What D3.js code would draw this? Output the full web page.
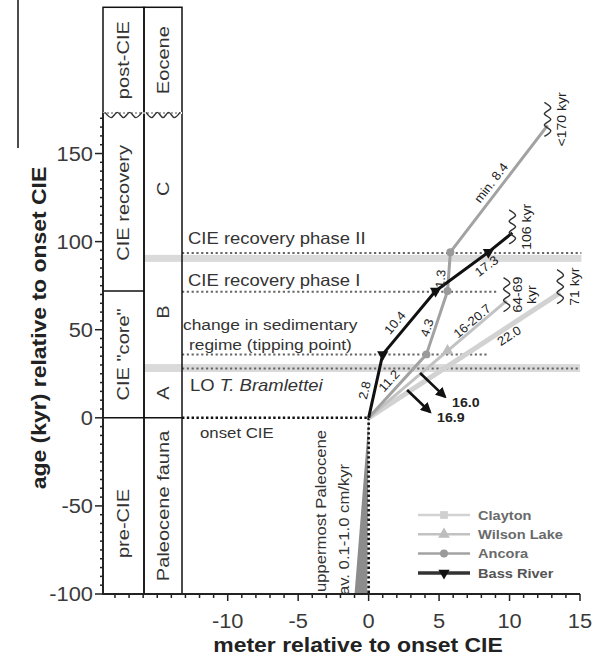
<!DOCTYPE html>
<html><head><meta charset="utf-8">
<script src="https://cdn.jsdelivr.net/npm/d3@7"></script>
<style>body{margin:0;background:#fff}svg{display:block}</style>
</head><body>
<svg id="chart" width="611" height="657"></svg>
<script>
// ---- stratigraphic columns (kyr relative to onset CIE) ----
const phaseNames = ['post-CIE', 'CIE recovery', 'CIE "core"', 'pre-CIE'];
const phaseFrom  = [173, 72, 0, -100];
const phaseTo    = [233, 173, 72, 0];
const phaseLabelAt = [203, 122, 36, -60];

const zoneNames = ['Eocene', 'C', 'B', 'A', 'Paleocene fauna'];
const zoneFrom  = [173, 92, 28, 0, -100];
const zoneTo    = [233, 173, 92, 28, 0];
const zoneLabelAt = [203, 130, 60, 14, -50];

// ---- time horizons ----
const horizonNames = ['CIE recovery phase II', 'CIE recovery phase I', 'tipping point', 'LO T. bramlettei', 'onset CIE'];
const horizonKyr   = [93.5, 71.5, 36, 28, 0];
const horizonEndM  = [15.1, 9.1, 8.4, 15.0, 0];
const bandKyr = [[88.5, 92.5], [26, 30.5]];   // grey uncertainty bands
const bandEndM = [15.1, 15.0];

// ---- uppermost Paleocene sedimentation rate (cm/kyr) ----
const paleoRates = [0.1, 1.0];
const paleoSpanKyr = 100;

// ---- age-depth tie points per site (m, kyr) ----
const sites = ['Clayton', 'Wilson Lake', 'Ancora', 'Bass River'];
const claytonM   = [0, 13.6];
const claytonKyr = [0, 71];
const wilsonM    = [0, 5.6, 9.8];
const wilsonKyr  = [0, 38, 66.5];
const ancoraM    = [0, 4.1, 5.6, 5.8, 12.7];
const ancoraKyr  = [0, 36, 72, 94, 166];
const bassM      = [0, 1.0, 4.75, 8.5, 10.2];
const bassKyr    = [0, 36, 72, 94, 105];
// which tie points carry a symbol
const claytonMarks = [];
const wilsonMarks  = [1];
const ancoraMarks  = [1, 2, 3];
const bassMarks    = [1, 2, 3];

// sedimentation rates (cm/kyr) written along segments
const rateSite = ['Bass River', 'Bass River', 'Bass River', 'Ancora', 'Ancora', 'Ancora', 'Ancora', 'Wilson Lake', 'Clayton'];
const rateSeg  = [0, 1, 2, 0, 1, 2, 3, 1, 0];
const rateText = ['2.8', '10.4', '17.3', '11.2', '4.3', '1.3', 'min. 8.4', '16-20.7', '22.0'];

// duration at top of each record
const endSite = ['Ancora', 'Bass River', 'Wilson Lake', 'Clayton'];
const endText = [['<170 kyr'], ['106 kyr'], ['64-69', 'kyr'], ['71 kyr']];

// arrows to deeper levels (m)
const arrowSite  = ['Wilson Lake', 'Clayton'];
const arrowText  = ['16.0', '16.9'];
const arrowFromM = [3.65, 2.73];
const arrowFromK = [25.4, 15.8];
const arrowToM   = [5.42, 4.36];
const arrowToK   = [11.9, 3.3];

// axis ticks
const xTicks = [-10, -5, 0, 5, 10, 15];
const yTicks = [-100, -50, 0, 50, 100, 150];

// ---------------------------------------------------------------
const FONT = '"Liberation Sans", Arial, Helvetica, sans-serif';
const SX = 1.12;           // slight horizontal widening of glyphs
const svg = d3.select('#chart');
const x = d3.scaleLinear().domain([-18.85, 15]).range([103, 580]);
const y = d3.scaleLinear().domain([-100, 173]).range([594, 113]);
const col1 = [103, 144], col2 = [144, 182];

const style = {
  'Clayton':     {stroke: '#d2d2d2', width: 5,   fill: '#cfcfcf', shape: d3.symbolSquare,   size: 60},
  'Wilson Lake': {stroke: '#c2c2c2', width: 3,   fill: '#bdbdbd', shape: d3.symbolTriangle, size: 60},
  'Ancora':      {stroke: '#a2a2a2', width: 3,   fill: '#9a9a9a', shape: d3.symbolCircle,   size: 50},
  'Bass River':  {stroke: '#111111', width: 3,   fill: '#111111', shape: d3.symbolTriangle, size: 55, flip: true}
};
const siteData = {
  'Clayton':     {m: claytonM, k: claytonKyr, marks: claytonMarks},
  'Wilson Lake': {m: wilsonM,  k: wilsonKyr,  marks: wilsonMarks},
  'Ancora':      {m: ancoraM,  k: ancoraKyr,  marks: ancoraMarks},
  'Bass River':  {m: bassM,    k: bassKyr,    marks: bassMarks}
};
const pts = s => siteData[s].m.map((m, i) => [x(m), y(siteData[s].k[i])]);

function txt(g, str, px, py, o = {}) {
  const t = g.append('text')
    .attr('transform', `translate(${px},${py}) rotate(${o.rot || 0}) scale(${o.sx || SX},1)`)
    .attr('font-family', FONT)
    .attr('font-size', o.size || 16)
    .attr('font-weight', o.weight || 'normal')
    .attr('font-style', o.italic ? 'italic' : 'normal')
    .attr('fill', o.fill || '#333')
    .attr('text-anchor', o.anchor || 'start')
    .attr('dominant-baseline', o.base || 'auto');
  if (typeof str === 'string') t.text(str);
  else str.forEach(p => t.append('tspan').attr('font-style', p.italic ? 'italic' : 'normal').text(p.t));
  return t;
}

// vertical or horizontal wavy stroke
function wavy(g, cx, cy, len, vertical, amp = 3.2, n = 6) {
  const p = d3.range(n + 1).map(i => {
    const a = -len / 2 + i * len / n, b = (i % 2 ? amp : -amp);
    return vertical ? [cx + b, cy + a] : [cx + a, cy + b];
  });
  g.append('path').attr('d', d3.line().curve(d3.curveCardinal)(p))
    .attr('fill', 'none').attr('stroke', '#333').attr('stroke-width', 1.4);
}

// stray frame line at the upper left
svg.append('line').attr('x1', 18).attr('x2', 18).attr('y1', 0).attr('y2', 148)
  .attr('stroke', '#111').attr('stroke-width', 1.5);

// ---- grey bands ----
const gBands = svg.append('g');
bandKyr.forEach((b, i) => {
  gBands.append('rect').attr('x', col2[0]).attr('width', x(bandEndM[i]) - col2[0])
    .attr('y', y(b[1])).attr('height', y(b[0]) - y(b[1])).attr('fill', '#dadada');
});

// ---- uppermost Paleocene wedge ----
svg.append('path')
  .attr('d', d3.line()([[x(0), y(0)], [x(-paleoRates[1] * paleoSpanKyr / 100), y(-paleoSpanKyr)],
                        [x(-paleoRates[0] * paleoSpanKyr / 100), y(-paleoSpanKyr)]]) + 'Z')
  .attr('fill', '#8c8c8c');

// ---- horizons ----
const gH = svg.append('g');
horizonKyr.forEach((k, i) => {
  const onset = k === 0;
  gH.append('line').attr('x1', col2[1]).attr('x2', x(horizonEndM[i]))
    .attr('y1', y(k)).attr('y2', y(k))
    .attr('stroke', onset ? '#111' : '#666').attr('stroke-width', onset ? 2.6 : 2)
    .attr('stroke-dasharray', onset ? '2.4,2.4' : '2.2,2.6');
});
// vertical dotted line below the onset
gH.append('line').attr('x1', x(0)).attr('x2', x(0)).attr('y1', y(0)).attr('y2', y(-100))
  .attr('stroke', '#111').attr('stroke-width', 2.6).attr('stroke-dasharray', '2.4,2.4');

const hx = 188;
txt(gH, horizonNames[0], hx, y(horizonKyr[0]) - 9, {size: 16.5});
txt(gH, horizonNames[1], hx, y(horizonKyr[1]) - 6, {size: 16.5});
txt(gH, 'change in sedimentary', col2[1] + 1, y(horizonKyr[2]) - 24, {size: 15.5});
txt(gH, 'regime (tipping point)', hx + 1, y(horizonKyr[2]) - 4, {size: 15.5});
txt(gH, [{t: 'LO '}, {t: 'T. Bramlettei', italic: true}], hx + 2, y(horizonKyr[3]) + 23, {size: 16.5});
txt(gH, horizonNames[4], 200, y(horizonKyr[4]) + 20, {size: 15});

// ---- stratigraphic columns ----
const gC = svg.append('g');
const colTop = y(phaseTo[0]);
[col1, col2].forEach(c => {
  gC.append('rect').attr('x', c[0]).attr('y', colTop).attr('width', c[1] - c[0]).attr('height', y(-100) - colTop)
    .attr('fill', 'none').attr('stroke', '#111').attr('stroke-width', 1.5);
});
// phase / zone boundaries
gC.append('line').attr('x1', col1[0]).attr('x2', col2[1]).attr('y1', y(0)).attr('y2', y(0))
  .attr('stroke', '#111').attr('stroke-width', 1.6);
gC.append('line').attr('x1', col1[0]).attr('x2', col1[1]).attr('y1', y(phaseFrom[1])).attr('y2', y(phaseFrom[1]))
  .attr('stroke', '#111').attr('stroke-width', 1.5);
gC.append('rect').attr('x', col1[0]).attr('y', y(phaseFrom[0]) - 1).attr('width', col2[1] - col1[0]).attr('height', 2).attr('fill', '#fff');
gC.append('line').attr('x1', col1[0]).attr('x2', col2[1]).attr('y1', y(phaseFrom[0])).attr('y2', y(phaseFrom[0]))
  .attr('stroke', '#555').attr('stroke-width', 1.2).attr('stroke-dasharray', '2,2');
[col1, col2].forEach(c => {
  const w = c[1] - c[0];
  wavy(gC, (c[0] + c[1]) / 2, y(phaseFrom[0]) + 2, w - 4, false, 2.6, 6);
});
phaseNames.forEach((n, i) => txt(gC, n, (col1[0] + col1[1]) / 2, y(phaseLabelAt[i]),
  {rot: -90, anchor: 'middle', base: 'central', size: 17, sx: 1.18}));
zoneNames.forEach((n, i) => txt(gC, n, (col2[0] + col2[1]) / 2, y(zoneLabelAt[i]),
  {rot: -90, anchor: 'middle', base: 'central', size: 17, sx: 1.18}));

// ---- axes ----
const gAx = svg.append('g').attr('stroke', '#222');
gAx.append('line').attr('x1', x.range()[0]).attr('x2', x.range()[1]).attr('y1', y(-100)).attr('y2', y(-100)).attr('stroke-width', 1.8);
gAx.append('line').attr('x1', x.range()[0]).attr('x2', x.range()[0]).attr('y1', y.range()[1]).attr('y2', y.range()[0]).attr('stroke-width', 1.8);
d3.range(-18, 16, 1).forEach(v => {
  const major = xTicks.includes(v);
  gAx.append('line').attr('x1', x(v)).attr('x2', x(v)).attr('y1', y(-100)).attr('y2', y(-100) + (major ? 7 : 4)).attr('stroke-width', 1.5);
});
d3.range(-100, 171, 5).forEach(v => {
  const major = yTicks.includes(v);
  gAx.append('line').attr('x1', x.range()[0]).attr('x2', x.range()[0] - (major ? 8 : 3)).attr('y1', y(v)).attr('y2', y(v)).attr('stroke-width', 1.5);
});
const gT = svg.append('g');
xTicks.forEach(v => txt(gT, String(v), x(v), 628, {anchor: 'middle', size: 19.5, fill: '#3a3a3a'}));
yTicks.forEach(v => txt(gT, String(v), 93, y(v), {anchor: 'end', base: 'central', size: 19.5, fill: '#3a3a3a'}));
txt(gT, 'meter relative to onset CIE', 358, 652, {anchor: 'middle', size: 20.5, weight: 'bold', fill: '#222'});
txt(gT, 'age (kyr) relative to onset CIE', 39, 328, {anchor: 'middle', base: 'central', rot: -90, size: 20.5, weight: 'bold', fill: '#222'});

// ---- uppermost Paleocene annotation ----
txt(svg, 'uppermost Paleocene', 321, 592, {rot: -90, base: 'central', size: 14.5, fill: '#333', sx: 1.15});
txt(svg, 'av. 0.1-1.0 cm/kyr', 344, 595, {rot: -90, base: 'central', size: 14.5, fill: '#333', sx: 1.15});

// ---- site records ----
const gL = svg.append('g');
sites.forEach(s => {
  const st = style[s];
  gL.append('path').attr('d', d3.line()(pts(s))).attr('fill', 'none')
    .attr('stroke', st.stroke).attr('stroke-width', st.width).attr('stroke-linejoin', 'round');
});
sites.forEach(s => {
  const st = style[s], p = pts(s);
  siteData[s].marks.forEach(i => {
    gL.append('path').attr('d', d3.symbol(st.shape, st.size)())
      .attr('transform', `translate(${p[i][0]},${p[i][1]}) rotate(${st.flip ? 180 : 0})`)
      .attr('fill', st.fill);
  });
});

// rate labels along segments
const ratePlace = [[0.4, -10], [0.39, -11], [0.85, 10], [0.48, -10], [0.38, -8], [0.3, -8], [0.5, -10], [0.49, -7], [0.71, 8]];
rateText.forEach((t, i) => {
  const p = pts(rateSite[i]), a = p[rateSeg[i]], b = p[rateSeg[i] + 1];
  const dx = b[0] - a[0], dy = b[1] - a[1], L = Math.hypot(dx, dy);
  const [tt, off] = ratePlace[i];
  const nx = -dy / L, ny = dx / L;
  const px = a[0] + dx * tt + nx * off, py = a[1] + dy * tt + ny * off;
  const ang = Math.atan2(dy, dx) * 180 / Math.PI;
  txt(gL, t, px, py, {rot: ang, anchor: 'middle', base: 'central', size: 12.5, fill: '#222', sx: 1.05});
});

// record tops
endSite.forEach((s, i) => {
  const p = pts(s), e = p[p.length - 1];
  wavy(gL, e[0], e[1] - 6, 34, true, 3.2, 6);
  const lines = endText[i];
  lines.forEach((l, j) => txt(gL, l, e[0] + (lines.length > 1 ? 11 + j * 14 : 14), e[1] - 6,
    {rot: -90, anchor: 'middle', base: 'central', size: 13, fill: '#222', sx: 1.08}));
});

// arrows
const defs = svg.append('defs');
defs.append('marker').attr('id', 'ah').attr('viewBox', '0 0 10 10').attr('refX', 8).attr('refY', 5)
  .attr('markerWidth', 4.2).attr('markerHeight', 4.2).attr('orient', 'auto')
  .append('path').attr('d', 'M0,0L10,5L0,10Z').attr('fill', '#111');
arrowText.forEach((t, i) => {
  const x1 = x(arrowFromM[i]), y1 = y(arrowFromK[i]), x2 = x(arrowToM[i]), y2 = y(arrowToK[i]);
  gL.append('line').attr('x1', x1).attr('y1', y1).attr('x2', x2).attr('y2', y2)
    .attr('stroke', '#111').attr('stroke-width', 2.6).attr('marker-end', 'url(#ah)');
  txt(gL, t, x2 + 7, y2 + 10, {size: 13.5, weight: 'bold', fill: '#222', sx: 1.05});
});

// ---- legend ----
const gLeg = svg.append('g');
sites.forEach((s, i) => {
  const st = style[s], ly = 515 + i * 19.3;
  gLeg.append('line').attr('x1', 418).attr('x2', 470).attr('y1', ly).attr('y2', ly)
    .attr('stroke', s === 'Bass River' ? '#333' : st.stroke).attr('stroke-width', s === 'Bass River' ? 3.5 : 2.5);
  gLeg.append('path').attr('d', d3.symbol(st.shape, st.size)())
    .attr('transform', `translate(444,${ly}) rotate(${st.flip ? 180 : 0})`).attr('fill', st.fill);
  txt(gLeg, s, 478, ly, {base: 'central', size: 13.5, weight: 'bold', fill: s === 'Bass River' ? '#555' : '#6a6a6a', sx: 1.08});
});
</script>
</body></html>
